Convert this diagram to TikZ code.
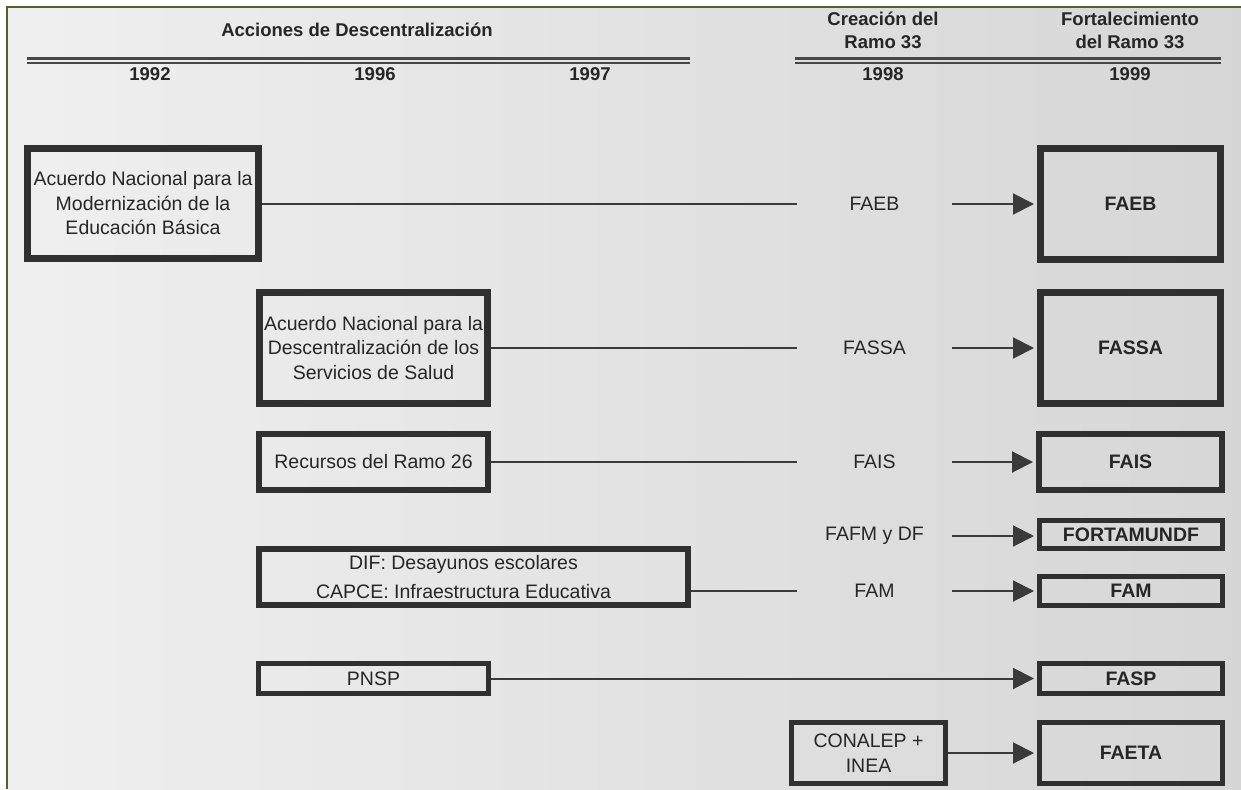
\documentclass[tikz,border=0pt]{standalone}
\usepackage{fontspec}
\setmainfont{Liberation Sans}
\usetikzlibrary{arrows.meta}
\definecolor{boxc}{HTML}{303030}
\definecolor{linec}{HTML}{3A3A3A}
\definecolor{txtc}{HTML}{262626}
\definecolor{olive}{HTML}{4F6228}
\newcommand\myfs{\fontsize{19.5}{24.5}\selectfont}
\newcommand\myhs{\fontsize{18.5}{23}\selectfont\bfseries}
\begin{document}
\begin{tikzpicture}[x=1pt,y=-1pt,
  bx/.style={draw=boxc, inner sep=0pt, align=center, font=\myfs, text=txtc},
  bigbx/.style={bx, line width=7pt},
  midbx/.style={bx, line width=6pt},
  smbx/.style={bx, line width=5pt},
  res/.style={font=\myfs\bfseries},
  lab/.style={minimum width=155pt, inner sep=0pt, font=\myfs, text=txtc},
  hdr/.style={font=\myhs, text=txtc, align=center, inner sep=0pt},
  conn/.style={draw=linec, line width=1.6pt},
  arr/.style={draw=linec, line width=2pt, -{Triangle[length=21pt,width=21pt]}, shorten >=3pt},
  dbl/.style={draw=black!72, line width=2.6pt}
]
\useasboundingbox (0,0) rectangle (1241,789);
\fill[white] (0,0) rectangle (1241,789);
\fill[left color=black!6, middle color=white!98!black, right color=black!16] (7,7) rectangle (1241,789);
\draw[olive, line width=2pt] (7,789) -- (7,7) -- (1241,7);

% headers
\node[hdr] (hA) at (357,30) {Acciones de Descentralización};
\node[hdr] (hB) at (883,30) {Creación del\\Ramo 33};
\node[hdr] (hC) at (1130,30) {Fortalecimiento\\del Ramo 33};
\draw[dbl] (27,58.5) -- (690,58.5);
\draw[dbl] (27,63) -- (690,63);
\draw[dbl] (795,58.5) -- (1221,58.5);
\draw[dbl] (795,63) -- (1221,63);
\node[hdr] (y92) at (150,74) {1992};
\node[hdr] (y96) at (375,74) {1996};
\node[hdr] (y97) at (590,74) {1997};
\node[hdr] (y98) at (883,74) {1998};
\node[hdr] (y99) at (1130,74) {1999};

% left boxes
\node[bigbx, minimum width=231pt, minimum height=110pt] (b1) at (143,203.5)
  {Acuerdo Nacional para la\\Modernización de la\\Educación Básica};
\node[bigbx, minimum width=228pt, minimum height=111pt] (b2) at (373.5,348)
  {Acuerdo Nacional para la\\Descentralización de los\\Servicios de Salud};
\node[midbx, minimum width=229pt, minimum height=56pt] (b3) at (373.5,462)
  {Recursos del Ramo 26};
\node[midbx, minimum width=429pt, minimum height=56pt] (b4) at (473.5,577)
  {\hspace*{-20pt}DIF: Desayunos escolares\\[4.5pt]\hspace*{-20pt}CAPCE: Infraestructura Educativa};
\node[smbx, minimum width=230pt, minimum height=30pt] (b5) at (373.5,678.5) {PNSP};
\node[smbx, minimum width=154pt, minimum height=61pt] (b6) at (868.5,753)
  {CONALEP +\\INEA};

% middle labels
\node[lab] (l1) at (874.5,204) {FAEB};
\node[lab] (l2) at (874.5,348) {FASSA};
\node[lab] (l3) at (874.5,462) {FAIS};
\node[lab] (l4) at (874.5,536) {FAFM y DF};
\node[lab] (l5) at (874.5,591) {FAM};

% right boxes
\node[bigbx, res, minimum width=180pt, minimum height=111pt] (r1) at (1130.5,204) {FAEB};
\node[bigbx, res, minimum width=180pt, minimum height=111pt] (r2) at (1130.5,348) {FASSA};
\node[midbx, res, minimum width=183pt, minimum height=56pt] (r3) at (1130.5,462) {FAIS};
\node[smbx, res, minimum width=183pt, minimum height=28pt] (r4) at (1131,534.5) {FORTAMUNDF};
\node[smbx, res, minimum width=183pt, minimum height=29pt] (r5) at (1131,591) {FAM};
\node[smbx, res, minimum width=183pt, minimum height=30pt] (r6) at (1131,678.5) {FASP};
\node[smbx, res, minimum width=183pt, minimum height=61pt] (r7) at (1131,753) {FAETA};

% connectors
\draw[conn] (b1.east |- l1) -- (l1.west);
\draw[conn] (b2.east |- l2) -- (l2.west);
\draw[conn] (b3.east |- l3) -- (l3.west);
\draw[conn] (b4.east |- l5) -- (l5.west);
\draw[arr] (l1.east) -- (r1.west |- l1);
\draw[arr] (l2.east) -- (r2.west |- l2);
\draw[arr] (l3.east) -- (r3.west |- l3);
\draw[arr] (l4.east) -- (r4.west |- l4);
\draw[arr] (l5.east) -- (r5.west |- l5);
\draw[arr] (b5.east) -- (r6.west);
\draw[arr] (b6.east) -- (r7.west);
\end{tikzpicture}
\end{document}
